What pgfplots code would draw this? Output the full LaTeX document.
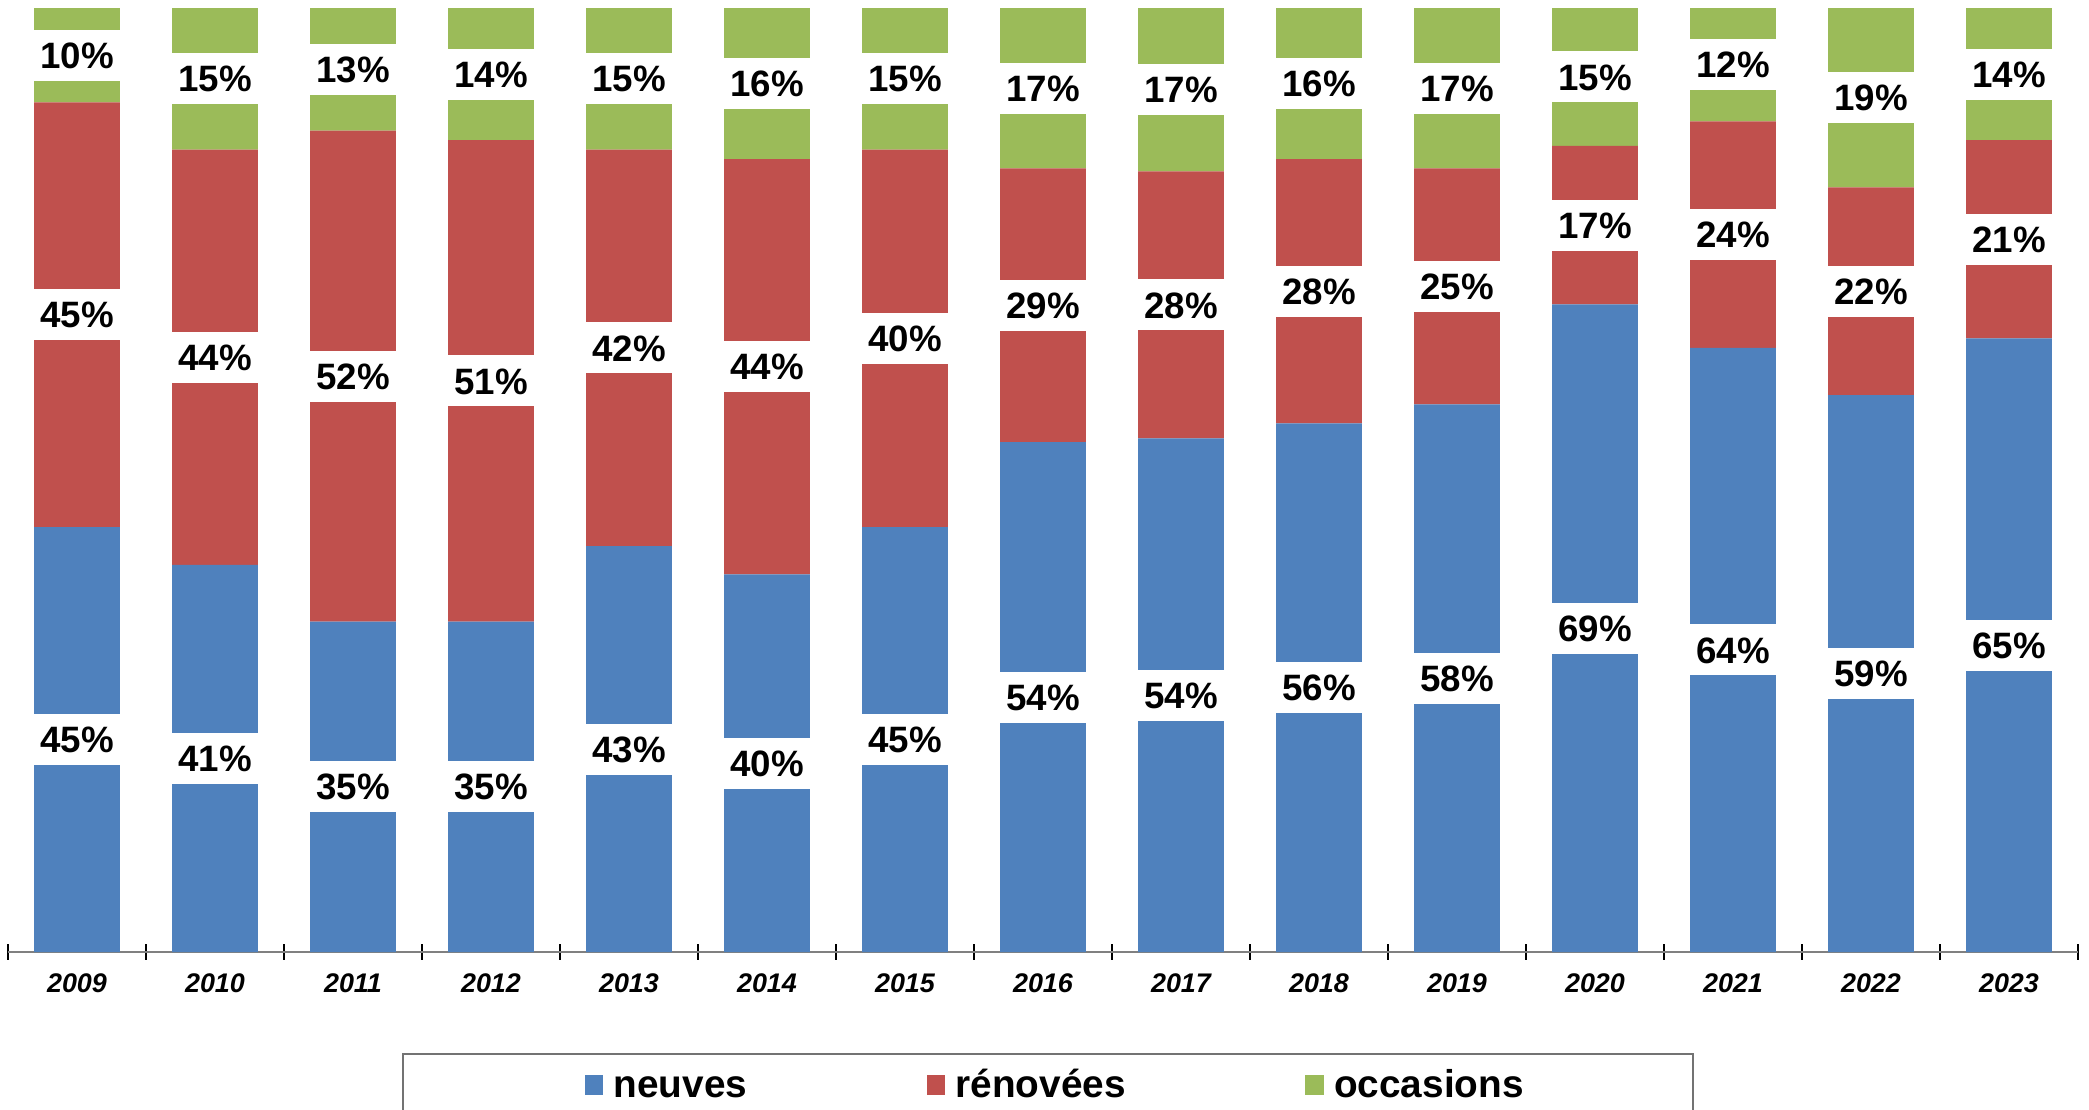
\documentclass[border=0pt]{standalone}
\usepackage{fontspec}
\setmainfont{Liberation Sans}
\usepackage{pgfplots}
\usepackage{pgfplotstable}
\pgfplotsset{compat=1.18}
\usetikzlibrary{calc}

\definecolor{neuvesblue}{HTML}{4F81BD}
\definecolor{renovred}{HTML}{C0504D}
\definecolor{occgreen}{HTML}{9BBB59}

% parts in percent: neuves, renovees, occasions
\pgfplotstableread{
x  n     r     o
0  45    45    10
1  41    44    15
2  35    52    13
3  35    51    14
4  43    42    15
5  40    44    16
6  45    40    15
7  54    29    17
8  54.4  28.3  17.3
9  56    28    16
10 58    25    17
11 68.6  16.8  14.6
12 64    24    12
13 59    22    19
14 65    21    14
}\parts

\pgfplotsset{
  sqlegend/.style={legend image code/.code={\fill[##1] (0pt,-1.8pt) rectangle (4.6pt,2.9pt);}},
  % first entry gets a little extra room on its left
  sqlegendfirst/.style={legend image code/.code={\path (-3pt,0pt); \fill[##1] (0pt,-1.8pt) rectangle (4.6pt,2.9pt);}},
}

\begin{document}
\begin{tikzpicture}
\begin{axis}[
  name=ax,
  scale only axis, width=17.836cm, height=8.134cm,
  ybar stacked, bar width=0.623,
  xmin=-0.5, xmax=14.5, ymin=0, ymax=100,
  axis y line=none, axis x line*=bottom,
  x axis line style={-, draw=black!50, line width=0.6pt},
  xtick={0,...,14},
  xticklabels={2009,2010,2011,2012,2013,2014,2015,2016,2017,2018,2019,2020,2021,2022,2023},
  major tick length=0pt,
  minor xtick={-0.5,0.5,...,14.5},
  minor tick length=3.7pt, tick align=center,
  minor tick style={black, line width=0.35pt},
  xticklabel style={font=\bfseries\itshape\fontsize{6.6}{8}\selectfont, anchor=center,
    yshift=-7.6pt, inner sep=0pt, text height=4.7pt, text depth=0pt},
  clip=false,
  nodes near coords={\pgfmathprintnumber[fixed,precision=0,assume math mode=true]{\segval}\%},
  every node near coord/.append style={font=\bfseries\fontsize{9}{10}\selectfont,
    fill=white, text=black, inner sep=0pt, minimum width=24pt, minimum height=12.5pt,
    text height=6.45pt, text depth=0pt, anchor=center},
  legend columns=3,
  legend cell align=left,
  legend style={at={(0.1903,-0.107)}, anchor=north west, draw=black!55, line width=0.6pt,
    font=\bfseries\fontsize{9.5}{11}\selectfont,
    inner xsep=41.5pt, inner ysep=3.7pt,
    nodes={inner sep=0pt, text height=6.8pt, text depth=2pt},
    /tikz/every odd column/.append style={column sep=2.5pt},
    /tikz/every even column/.append style={column sep=44pt}},
]
\addplot[fill=neuvesblue, draw=none, sqlegendfirst, visualization depends on={\thisrow{n}\as\segval}]
  table[x=x, y=n] {\parts};
\addplot[fill=renovred, draw=none, sqlegend, visualization depends on={\thisrow{r}\as\segval}]
  table[x=x, y=r] {\parts};
\addplot[fill=occgreen, draw=none, sqlegend, visualization depends on={\thisrow{o}\as\segval}]
  table[x=x, y=o] {\parts};
\legend{neuves, rénovées, occasions}
\end{axis}
\pgfresetboundingbox
\path[use as bounding box] ($(ax.south west)+(-0.0689cm,-1.353cm)$) rectangle ($(ax.north east)+(0.0948cm,0.0689cm)$);
\end{tikzpicture}
\end{document}
